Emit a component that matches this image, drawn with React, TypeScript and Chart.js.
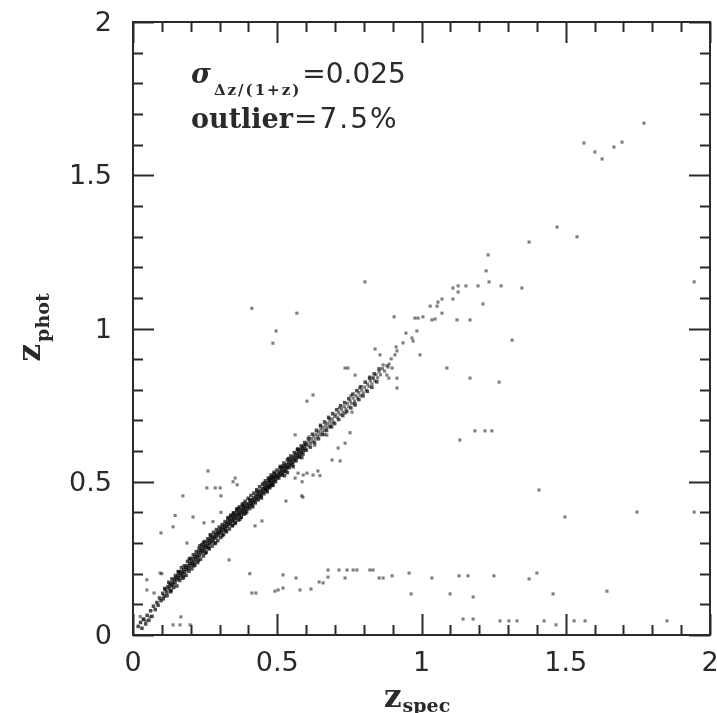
import { useEffect, useRef } from 'react';
import { Chart, registerables } from 'chart.js';

Chart.register(...registerables);

// Axis ranges and tick marks (z_spec on x, z_phot on y)
const axisMin = 0;
const axisMax = 2;
const majorTicks = [0, 0.5, 1, 1.5, 2];
const majorTickLabels = ['0', '0.5', '1', '1.5', '2'];
const minorTicks = [0.1, 0.2, 0.3, 0.4, 0.6, 0.7, 0.8, 0.9, 1.1, 1.2, 1.3, 1.4, 1.6, 1.7, 1.8, 1.9];

// Annotation values
const sigmaValue = '0.025';
const outlierValue = '7.5%';

// [z_spec, z_phot] pairs
const bandLow: [number, number][] = [
  [0.018, 0.028], [0.026, 0.041], [0.031, 0.022], [0.037, 0.052], [0.044, 0.036], [0.049, 0.064], [0.055, 0.048],
  [0.061, 0.079], [0.066, 0.061], [0.071, 0.094], [0.077, 0.083], [0.083, 0.106], [0.087, 0.097], [0.092, 0.121],
  [0.097, 0.112], [0.103, 0.136], [0.108, 0.127], [0.112, 0.148], [0.117, 0.139],
  [0.121, 0.158], [0.125, 0.151], [0.128, 0.166], [0.132, 0.16], [0.136, 0.171], [0.139, 0.165], [0.143, 0.181],
  [0.146, 0.172], [0.149, 0.188], [0.153, 0.181], [0.156, 0.194], [0.159, 0.186], [0.163, 0.201], [0.166, 0.193],
  [0.169, 0.207], [0.172, 0.2], [0.176, 0.214], [0.179, 0.205], [0.183, 0.221], [0.186, 0.213], [0.19, 0.226],
  [0.193, 0.218], [0.197, 0.234],
  [0.2, 0.227], [0.203, 0.241], [0.206, 0.233], [0.209, 0.249], [0.212, 0.238], [0.215, 0.256], [0.218, 0.247],
  [0.221, 0.261], [0.224, 0.254], [0.227, 0.27], [0.23, 0.259], [0.233, 0.276], [0.236, 0.268], [0.239, 0.282],
  [0.242, 0.273], [0.245, 0.29], [0.248, 0.279], [0.251, 0.293], [0.254, 0.286], [0.257, 0.301], [0.26, 0.291],
  [0.263, 0.307], [0.266, 0.299], [0.269, 0.312], [0.272, 0.303], [0.275, 0.318], [0.278, 0.309], [0.281, 0.323],
  [0.284, 0.316], [0.287, 0.33], [0.29, 0.321], [0.293, 0.335], [0.296, 0.327], [0.299, 0.34],
  [0.132, 0.145], [0.158, 0.206], [0.175, 0.19], [0.195, 0.248], [0.211, 0.226], [0.232, 0.291], [0.25, 0.267],
  [0.268, 0.327], [0.286, 0.301], [0.226, 0.243], [0.262, 0.284], [0.244, 0.302],
];

const bandMid: [number, number][] = [
  [0.302, 0.333], [0.305, 0.346], [0.308, 0.337], [0.311, 0.351], [0.314, 0.343], [0.317, 0.357], [0.32, 0.349],
  [0.323, 0.363], [0.326, 0.354], [0.329, 0.369], [0.332, 0.36], [0.335, 0.373], [0.338, 0.365], [0.341, 0.379],
  [0.344, 0.371], [0.347, 0.385], [0.35, 0.376], [0.353, 0.389], [0.356, 0.381], [0.359, 0.395], [0.362, 0.386],
  [0.365, 0.399], [0.368, 0.392], [0.371, 0.405], [0.374, 0.396], [0.377, 0.409], [0.38, 0.401], [0.383, 0.415],
  [0.386, 0.406], [0.389, 0.419], [0.392, 0.411], [0.395, 0.425], [0.398, 0.416],
  [0.31, 0.324], [0.33, 0.383], [0.345, 0.357], [0.36, 0.411], [0.375, 0.384], [0.385, 0.429], [0.34, 0.391],
  [0.37, 0.377], [0.39, 0.397], [0.355, 0.367], [0.365, 0.413], [0.38, 0.421], [0.322, 0.34], [0.348, 0.398],
  [0.401, 0.429], [0.404, 0.421], [0.407, 0.436], [0.41, 0.427], [0.413, 0.441], [0.416, 0.433], [0.419, 0.447],
  [0.422, 0.438], [0.425, 0.453], [0.428, 0.444], [0.431, 0.459], [0.434, 0.45], [0.437, 0.465], [0.44, 0.456],
  [0.443, 0.471], [0.446, 0.462], [0.449, 0.477], [0.452, 0.468], [0.455, 0.483], [0.458, 0.474], [0.461, 0.489],
  [0.464, 0.48], [0.467, 0.495], [0.47, 0.486], [0.473, 0.501], [0.476, 0.492], [0.479, 0.505], [0.482, 0.497],
  [0.485, 0.511], [0.488, 0.502], [0.491, 0.517], [0.494, 0.508], [0.497, 0.521],
  [0.405, 0.441], [0.415, 0.418], [0.43, 0.469], [0.445, 0.447], [0.455, 0.496], [0.465, 0.467], [0.475, 0.511],
  [0.485, 0.489], [0.471, 0.505], [0.46, 0.476], [0.48, 0.516], [0.49, 0.526], [0.468, 0.482], [0.478, 0.487],
  [0.487, 0.515],
  [0.5, 0.514], [0.503, 0.527], [0.506, 0.519], [0.509, 0.533], [0.512, 0.524], [0.515, 0.539], [0.518, 0.53],
  [0.521, 0.545], [0.524, 0.535], [0.527, 0.551], [0.53, 0.542], [0.533, 0.556], [0.536, 0.547], [0.539, 0.563],
  [0.542, 0.553], [0.545, 0.569], [0.548, 0.559], [0.551, 0.575], [0.554, 0.565], [0.557, 0.581], [0.56, 0.571],
  [0.563, 0.587], [0.566, 0.577], [0.569, 0.593], [0.572, 0.583], [0.575, 0.599], [0.578, 0.589], [0.581, 0.605],
  [0.584, 0.595], [0.587, 0.611], [0.59, 0.601], [0.593, 0.617], [0.596, 0.607], [0.599, 0.621],
  [0.51, 0.546], [0.525, 0.52], [0.54, 0.576], [0.555, 0.549], [0.57, 0.606], [0.585, 0.579], [0.52, 0.551],
  [0.535, 0.53],
];

const bandHigh: [number, number][] = [
  [0.603, 0.626], [0.607, 0.617], [0.611, 0.633], [0.615, 0.625], [0.619, 0.641], [0.623, 0.631], [0.627, 0.649],
  [0.631, 0.639], [0.635, 0.656], [0.639, 0.647], [0.643, 0.663], [0.647, 0.653], [0.651, 0.671], [0.655, 0.661],
  [0.659, 0.677], [0.663, 0.667], [0.667, 0.685], [0.671, 0.675], [0.675, 0.691], [0.679, 0.681], [0.683, 0.699],
  [0.687, 0.689], [0.691, 0.705], [0.695, 0.695], [0.699, 0.713],
  [0.61, 0.646], [0.63, 0.619], [0.65, 0.681], [0.665, 0.654], [0.68, 0.706], [0.69, 0.679],
  [0.703, 0.719], [0.708, 0.709], [0.713, 0.727], [0.718, 0.719], [0.723, 0.737], [0.728, 0.727], [0.733, 0.745],
  [0.738, 0.737], [0.743, 0.755], [0.748, 0.745], [0.753, 0.763], [0.758, 0.755], [0.763, 0.773], [0.768, 0.763],
  [0.773, 0.781], [0.778, 0.773], [0.783, 0.791], [0.788, 0.781], [0.793, 0.799], [0.798, 0.789],
  [0.715, 0.741], [0.735, 0.724], [0.755, 0.781], [0.77, 0.749], [0.785, 0.806],
  [0.803, 0.809], [0.808, 0.799], [0.813, 0.819], [0.818, 0.811], [0.823, 0.829], [0.828, 0.819], [0.833, 0.839],
  [0.838, 0.829], [0.843, 0.849], [0.848, 0.839], [0.853, 0.859], [0.858, 0.849], [0.865, 0.869], [0.872, 0.861],
  [0.88, 0.879], [0.888, 0.884], [0.895, 0.901],
];

// wider scatter on both sides of the main relation
const bandSpread: [number, number][] = [
  [0.105, 0.118], [0.11, 0.152], [0.118, 0.128], [0.124, 0.172], [0.13, 0.141], [0.135, 0.183], [0.141, 0.155],
  [0.147, 0.194], [0.152, 0.16], [0.157, 0.207], [0.162, 0.178], [0.168, 0.22], [0.173, 0.185], [0.178, 0.226],
  [0.184, 0.195], [0.189, 0.24], [0.194, 0.208], [0.199, 0.25], [0.204, 0.216], [0.209, 0.262], [0.214, 0.228],
  [0.219, 0.272], [0.224, 0.236], [0.229, 0.283], [0.234, 0.247], [0.239, 0.295], [0.244, 0.258], [0.249, 0.305],
  [0.254, 0.27], [0.259, 0.314], [0.264, 0.281], [0.269, 0.323], [0.274, 0.29], [0.279, 0.335], [0.284, 0.298],
  [0.289, 0.344], [0.294, 0.308], [0.299, 0.352],
  [0.304, 0.318], [0.309, 0.36], [0.314, 0.328], [0.319, 0.37], [0.324, 0.337], [0.329, 0.38], [0.334, 0.346],
  [0.339, 0.389], [0.344, 0.357], [0.349, 0.398], [0.354, 0.364], [0.359, 0.407], [0.364, 0.375], [0.369, 0.418],
  [0.374, 0.384], [0.379, 0.427], [0.384, 0.394], [0.389, 0.436], [0.394, 0.402], [0.399, 0.446], [0.404, 0.412],
  [0.409, 0.455], [0.414, 0.424], [0.419, 0.463], [0.424, 0.431], [0.429, 0.474], [0.434, 0.441], [0.439, 0.484],
  [0.444, 0.452], [0.449, 0.492], [0.454, 0.461], [0.459, 0.503], [0.464, 0.471], [0.469, 0.512], [0.474, 0.48],
  [0.479, 0.522], [0.484, 0.49], [0.489, 0.531], [0.494, 0.5], [0.499, 0.538],
  [0.505, 0.512], [0.511, 0.55], [0.517, 0.522], [0.523, 0.561], [0.529, 0.534], [0.535, 0.572], [0.541, 0.546],
  [0.547, 0.584], [0.553, 0.556], [0.559, 0.595], [0.565, 0.568], [0.571, 0.606], [0.577, 0.58], [0.583, 0.617],
  [0.589, 0.59], [0.595, 0.628], [0.601, 0.603], [0.608, 0.64], [0.615, 0.613], [0.622, 0.655], [0.629, 0.627],
  [0.636, 0.668], [0.643, 0.64], [0.65, 0.684], [0.657, 0.654], [0.664, 0.695], [0.671, 0.667], [0.678, 0.71],
  [0.685, 0.679], [0.692, 0.722], [0.699, 0.69], [0.706, 0.735], [0.713, 0.703], [0.72, 0.748], [0.727, 0.716],
  [0.734, 0.758], [0.741, 0.729], [0.748, 0.771], [0.755, 0.741], [0.762, 0.786], [0.769, 0.754], [0.776, 0.797],
  [0.783, 0.768], [0.79, 0.81], [0.797, 0.78], [0.805, 0.825], [0.812, 0.795], [0.82, 0.838], [0.828, 0.808],
  [0.836, 0.852], [0.845, 0.826], [0.853, 0.868],
];

const diagonalTail: [number, number][] = [
  [0.804, 1.152], [0.839, 0.933], [0.856, 0.914], [0.867, 0.881], [0.884, 0.874], [0.898, 0.871], [0.821, 0.842],
  [0.832, 0.838], [0.88, 0.848], [0.915, 0.838], [0.915, 0.806], [0.887, 0.838], [0.905, 1.038], [0.946, 0.985],
  [0.984, 0.992], [0.967, 0.969], [0.971, 0.959], [0.936, 0.953], [0.912, 0.94], [0.915, 0.927], [0.908, 0.914],
  [0.995, 0.914], [0.977, 1.034], [0.988, 1.034], [1.005, 1.038], [1.036, 1.028], [1.047, 1.031], [1.123, 1.028],
  [1.168, 1.028], [1.03, 1.073], [1.054, 1.073], [1.057, 1.086], [1.071, 1.096], [1.109, 1.096], [1.071, 1.05],
  [1.109, 1.132], [1.127, 1.139], [1.127, 1.119], [1.154, 1.139], [1.196, 1.139], [1.234, 1.152], [1.276, 1.139],
  [1.348, 1.132], [1.213, 1.08], [1.224, 1.188], [1.231, 1.24], [1.373, 1.282], [1.47, 1.331], [1.539, 1.299],
  [1.563, 1.605], [1.601, 1.576], [1.626, 1.553], [1.667, 1.592], [1.695, 1.608], [1.771, 1.67], [1.945, 1.152],
  [1.314, 0.962], [1.088, 0.871], [1.168, 0.838], [1.269, 0.825],
];

const aboveBand: [number, number][] = [
  [0.412, 1.066], [0.568, 1.05], [0.496, 0.992], [0.485, 0.952],
  [0.26, 0.535], [0.256, 0.48], [0.285, 0.48], [0.302, 0.48], [0.305, 0.454], [0.354, 0.512], [0.361, 0.49],
  [0.173, 0.454], [0.208, 0.385], [0.246, 0.366], [0.277, 0.37], [0.139, 0.353], [0.097, 0.333], [0.187, 0.3],
  [0.1, 0.2], [0.048, 0.18], [0.048, 0.147], [0.073, 0.137], [0.305, 0.4], [0.347, 0.5], [0.146, 0.39],
  [0.624, 0.783], [0.603, 0.763], [0.562, 0.653], [0.745, 0.871], [0.77, 0.848], [0.735, 0.871], [0.094, 0.202],
];

const belowBand: [number, number][] = [
  [0.423, 0.356], [0.447, 0.372], [0.585, 0.454], [0.53, 0.437], [0.562, 0.512], [0.59, 0.522], [0.624, 0.522],
  [0.641, 0.535], [0.648, 0.52], [0.69, 0.571], [0.718, 0.568], [0.711, 0.61], [0.735, 0.626], [0.752, 0.66],
  [0.572, 0.528], [0.603, 0.528], [0.589, 0.45], [0.586, 0.5], [0.672, 0.652], [0.759, 0.727], [0.333, 0.245],
  [0.405, 0.2], [1.133, 0.636], [1.185, 0.666], [1.22, 0.666], [1.244, 0.666], [1.407, 0.473], [1.497, 0.385],
  [1.747, 0.401], [1.945, 0.401],
];

const lowPhotBand: [number, number][] = [
  [0.412, 0.137], [0.426, 0.137], [0.492, 0.143], [0.503, 0.147], [0.52, 0.153], [0.52, 0.196], [0.565, 0.186],
  [0.579, 0.147], [0.617, 0.15], [0.645, 0.173], [0.659, 0.17], [0.676, 0.189], [0.676, 0.212], [0.714, 0.212],
  [0.735, 0.186], [0.742, 0.212], [0.763, 0.212], [0.776, 0.212], [0.821, 0.212], [0.832, 0.212], [0.853, 0.186],
  [0.867, 0.186], [0.898, 0.193], [0.957, 0.202], [0.964, 0.134], [1.036, 0.186], [1.099, 0.134], [1.13, 0.193],
  [1.161, 0.193], [1.179, 0.124], [1.251, 0.193], [1.373, 0.183], [1.4, 0.202], [1.456, 0.134], [1.643, 0.143],
  [0.035, 0.05], [0.025, 0.06], [0.045, 0.046], [0.059, 0.059], [0.166, 0.059], [0.163, 0.033], [0.198, 0.033],
  [0.139, 0.033], [1.144, 0.052], [1.179, 0.052], [1.272, 0.046], [1.303, 0.046], [1.331, 0.046], [1.425, 0.046],
  [1.466, 0.033], [1.529, 0.046], [1.567, 0.046], [1.851, 0.046],
];

// dense core drawn darker, the thinner upper part and sparse scatter lighter
const coreSeries = [bandLow, bandMid, bandSpread];
const sparseSeries = [bandHigh, diagonalTail, aboveBand, belowBand, lowPhotBand];

const INK = '#2a2a2a';

const framePlugin = {
  id: 'pgFrame',
  afterDraw(chart: any) {
    const { ctx, chartArea: a, scales } = chart;
    const xs = scales.x;
    const ys = scales.y;
    ctx.save();
    ctx.strokeStyle = INK;
    ctx.lineWidth = 2;
    ctx.strokeRect(a.left, a.top, a.right - a.left, a.bottom - a.top);

    const drawTicks = (values: number[], len: number) => {
      ctx.beginPath();
      values.forEach((v) => {
        const px = Math.round(xs.getPixelForValue(v)) + 0.5;
        ctx.moveTo(px, a.bottom);
        ctx.lineTo(px, a.bottom - len);
        ctx.moveTo(px, a.top);
        ctx.lineTo(px, a.top + len);
        const py = Math.round(ys.getPixelForValue(v)) + 0.5;
        ctx.moveTo(a.left, py);
        ctx.lineTo(a.left + len, py);
        ctx.moveTo(a.right, py);
        ctx.lineTo(a.right - len, py);
      });
      ctx.stroke();
    };
    drawTicks(minorTicks, 10);
    drawTicks(majorTicks, 21);

    // tick labels
    ctx.fillStyle = INK;
    ctx.font = '27px "DejaVu Sans"';
    ctx.textBaseline = 'middle';
    majorTicks.forEach((v, i) => {
      ctx.textAlign = 'center';
      ctx.fillText(majorTickLabels[i], xs.getPixelForValue(v), a.bottom + 29);
      ctx.textAlign = 'right';
      ctx.fillText(majorTickLabels[i], a.left - 21, ys.getPixelForValue(v) + 2);
    });

    // axis titles
    ctx.textBaseline = 'alphabetic';
    ctx.textAlign = 'left';
    const bigZ = 'bold 31px "DejaVu Serif"';
    const subFont = 'bold 19px "DejaVu Serif"';
    ctx.font = bigZ;
    const zw = ctx.measureText('z').width;
    const xTitleLeft = a.left + 251;
    ctx.fillText('z', xTitleLeft, 707);
    ctx.font = subFont;
    ctx.fillText('spec', xTitleLeft + zw + 1, 712);

    const yMid = (a.top + a.bottom) / 2;
    ctx.save();
    ctx.translate(40, yMid + 33);
    ctx.rotate(-Math.PI / 2);
    ctx.font = bigZ;
    ctx.fillText('z', 0, 0);
    ctx.font = subFont;
    ctx.fillText('phot', zw + 2, 9);
    ctx.restore();

    // statistics annotation
    const ax = a.left + 58;
    ctx.font = 'italic bold 27px "DejaVu Serif"';
    ctx.fillText('σ', ax, 83);
    const sw = ctx.measureText('σ').width;
    ctx.font = 'bold 15px "DejaVu Serif"';
    (ctx as any).letterSpacing = '2px';
    ctx.fillText('Δz/(1+z)', ax + sw + 3, 95);
    const subw = ctx.measureText('Δz/(1+z)').width;
    (ctx as any).letterSpacing = '0px';
    ctx.font = '28px "DejaVu Sans"';
    ctx.fillText('=' + sigmaValue, ax + sw + 3 + subw + 1, 83);

    ctx.font = 'bold 27px "DejaVu Serif"';
    ctx.fillText('outlier', ax, 128);
    const ow = ctx.measureText('outlier').width;
    ctx.font = '28px "DejaVu Sans"';
    (ctx as any).letterSpacing = '2px';
    ctx.fillText('=' + outlierValue, ax + ow + 1, 128);
    (ctx as any).letterSpacing = '0px';
    ctx.restore();
  },
};

const toDataset = (pts: [number, number][], radius: number, color: string) => ({
  data: pts.map(([x, y]) => ({ x, y })),
  pointStyle: 'rect' as const,
  pointRadius: radius,
  pointBorderWidth: 0,
  backgroundColor: color,
  borderColor: 'rgba(0,0,0,0)',
});

export default function App() {
  const canvasRef = useRef<HTMLCanvasElement>(null);

  useEffect(() => {
    const canvas = canvasRef.current;
    if (!canvas) return;
    const chart = new Chart(canvas, {
      type: 'scatter',
      data: {
        datasets: [
          ...sparseSeries.map((pts) => toDataset(pts, 2.2, 'rgba(20,20,20,0.55)')),
          ...coreSeries.map((pts) => toDataset(pts, 2.5, 'rgba(10,10,10,0.72)')),
        ],
      },
      options: {
        responsive: false,
        devicePixelRatio: 1,
        animation: false,
        events: [],
        layout: { padding: { top: 22, right: 7, left: 0, bottom: 0 } },
        plugins: { legend: { display: false }, tooltip: { enabled: false } },
        scales: {
          x: {
            type: 'linear',
            min: axisMin,
            max: axisMax,
            grid: { display: false },
            border: { display: false },
            ticks: { display: false },
            afterFit: (s: any) => { s.height = 78; },
          },
          y: {
            type: 'linear',
            min: axisMin,
            max: axisMax,
            grid: { display: false },
            border: { display: false },
            ticks: { display: false },
            afterFit: (s: any) => { s.width = 133; },
          },
        },
      },
      plugins: [framePlugin],
    });
    return () => chart.destroy();
  }, []);

  return (
    <div style={{ position: 'fixed', left: 0, top: 0, width: 717, height: 713, background: '#fff' }}>
      <canvas ref={canvasRef} width={717} height={713} style={{ display: 'block' }} />
    </div>
  );
}
